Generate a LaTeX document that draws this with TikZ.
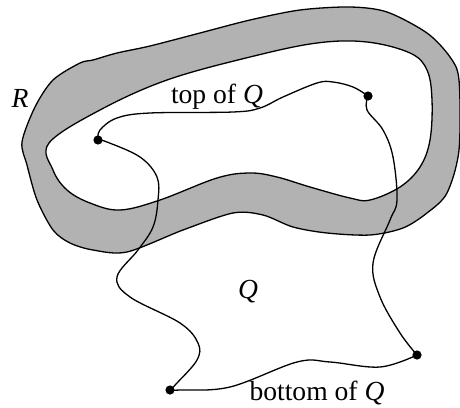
\documentclass[tikz,border=0pt]{standalone}
\usepackage{fontspec}
\setmainfont{Liberation Serif}
\usepackage{xcolor}
\definecolor{bandgray}{gray}{0.70}

\begin{document}
\begin{tikzpicture}[x=0.5pt,y=-0.5pt,line width=0.65pt,
  dot/.style={circle,fill=black,inner sep=0pt,minimum size=4.6pt},
  lbl/.style={font=\fontsize{13.8}{16}\selectfont}]
\useasboundingbox (0,0) rectangle (460,407);

% the band R
\path[draw,fill=bandgray,even odd rule]
  plot[smooth cycle,tension=0.5] coordinates {(22,142) (35,107) (53,80) (80,63) (93,60) (117,53) (150,46) (200,33) (250,20) (300,10) (350,7) (387,12) (427,33) (450,57) (459,80) (459,150) (447,193) (427,213) (403,228) (370,235) (327,233) (293,227) (263,215) (233,213) (183,230) (127,252) (93,250) (70,243) (53,230) (37,200) (27,165)}
  plot[smooth cycle,tension=0.6] coordinates {(49,143) (100,110) (167,80) (250,57) (317,43) (367,42) (410,53) (427,70) (432,100) (430,140) (420,167) (400,187) (370,200) (350,198) (310,187) (277,177) (250,173) (217,178) (160,200) (120,210) (90,203) (67,190) (53,170)};

\node[dot] (tl) at (98,140) {};
\node[dot] (tr) at (368,96) {};
\node[dot] (bl) at (170,390) {};
\node[dot] (br) at (417,355) {};

% the region Q
\draw plot[smooth,tension=0.6] coordinates {(tl) (100,130) (117,118) (150,113) (233,112) (260,108) (283,97) (317,83) (333,82) (353,87) (tr)};
\draw plot[smooth,tension=0.6] coordinates {(tl) (107,142) (140,157) (157,177) (158,200) (153,227) (138,250) (117,277) (130,297) (180,323) (198,343) (197,360) (177,383) (bl)};
\draw plot[smooth,tension=0.6] coordinates {(tr) (367,110) (383,130) (393,157) (397,200) (390,220) (373,263) (380,297) (400,333) (br)};
\draw plot[smooth,tension=0.6] coordinates {(bl) (180,390) (230,387) (297,362) (330,362) (380,367) (br)};

\node[lbl] (rlbl) at (20,98) {\textit{R}};
\node[lbl] (toplbl) at (217,97) {top of \textit{Q}};
\node[lbl] (qlbl) at (248,292) {\textit{Q}};
\node[lbl] (botlbl) at (317,393) {bottom of \textit{Q}};

\end{tikzpicture}
\end{document}
